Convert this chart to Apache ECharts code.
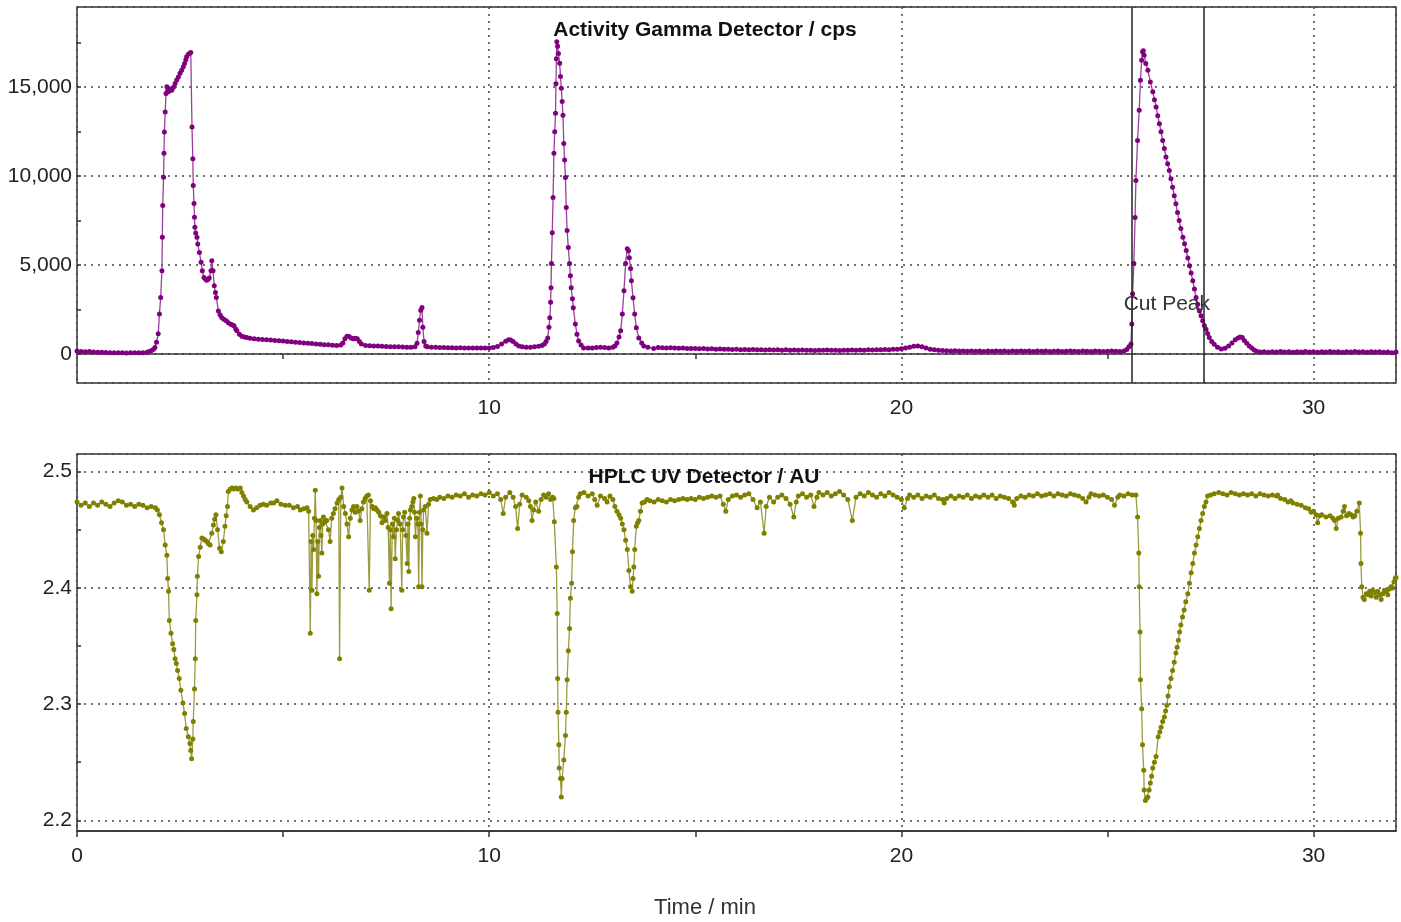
<!DOCTYPE html>
<html><head><meta charset="utf-8">
<script src="https://cdn.jsdelivr.net/npm/echarts@6/dist/echarts.min.js"></script>
<style>html,body{margin:0;padding:0;background:#fff}#c{width:1401px;height:922px}</style>
</head><body><div id="c"></div><script>
// ---- axis ranges & tick positions ----
const timeRange = [0, 32];
const gammaRange = [-1635, 19511];
const uvRange = [2.1908, 2.5152];
const gammaTickValues = [0, 2500, 5000, 7500, 10000, 12500, 15000, 17500];
const uvTickValues = [2.2, 2.25, 2.3, 2.35, 2.4, 2.45, 2.5];
const topTimeTicks = [5, 15, 25];
const bottomTimeTicks = [0, 5, 10, 15, 20, 25, 30];
// ---- annotations ----
const cutPeakStart = 25.58, cutPeakEnd = 27.34;
const cutPeakLabelAt = [26.44, 2820];
const titleGamma = 'Activity Gamma Detector / cps';
const titleUV = 'HPLC UV Detector / AU';
const xTitle = 'Time / min';

// ---- Activity gamma detector, [time min, cps] ----
const gammaCps = [
[0,170],[0.1,140],[0.2,120],[0.3,130],[0.4,110],[0.5,100],[0.6,90],[0.7,80],[0.8,70],[0.9,60],[1.0,70],[1.1,60],[1.2,50],[1.3,60],[1.4,70],[1.5,60],[1.6,70],[1.7,90],[1.75,130],[1.8,180],[1.85,250],[1.89,360],[1.93,650],[1.97,1130],[2.0,2250],[2.03,3180],[2.06,4680],[2.07,6560],[2.08,8350],[2.1,9940],[2.11,11280],[2.12,12480],[2.14,13610],[2.16,14650],[2.18,15020],[2.2,14800],[2.22,14740],[2.26,14900],[2.3,14830],[2.34,15000],[2.38,15210],[2.42,15400],[2.46,15580],[2.5,15780],[2.54,15960],[2.58,16150],[2.61,16340],[2.64,16550],[2.66,16710],[2.7,16850],[2.73,16900],[2.76,16950],
[2.79,12760],[2.81,10980],[2.82,9470],[2.84,8460],[2.85,7690],[2.86,7120],[2.88,6800],[2.91,6560],[2.93,6180],[2.97,5710],[3.01,5150],[3.04,4680],[3.08,4300],[3.12,4200],[3.15,4150],[3.18,4200],[3.21,4270],[3.25,4680],[3.27,5240],[3.3,4680],[3.33,3830],[3.36,3450],[3.38,3180],[3.43,2420],[3.47,2200],[3.51,2050],[3.56,1950],[3.62,1860],[3.67,1760],[3.73,1670],[3.77,1620],[3.81,1580],[3.85,1400],[3.88,1300],[3.94,1110],[4.0,1000],[4.06,950],[4.12,920],[4.2,880],[4.3,850],[4.4,830],[4.5,810],[4.6,800],[4.7,780],[4.8,760],[4.9,740],[5.0,730],[5.1,700],[5.2,680],[5.3,660],[5.4,640],[5.5,620],[5.6,600],[5.7,580],[5.8,560],[5.9,540],[6.0,520],[6.1,510],[6.2,490],[6.3,480],[6.4,500],[6.45,620],[6.5,850],[6.55,1000],[6.6,980],[6.65,900],[6.7,850],[6.75,880],[6.8,850],[6.85,700],[6.9,560],[7.0,480],[7.1,460],[7.2,450],[7.3,440],[7.4,430],[7.5,420],[7.6,410],[7.7,400],[7.8,400],[7.9,390],[8.0,380],[8.1,380],[8.2,400],[8.25,600],[8.28,1200],[8.31,1900],[8.34,2450],[8.37,2610],[8.39,1500],[8.42,700],[8.46,450],[8.5,400],[8.6,380],[8.7,370],[8.8,360],[8.9,360],[9.0,350],[9.1,350],[9.2,340],[9.3,350],[9.4,340],[9.5,340],[9.6,330],[9.7,340],[9.8,330],[9.9,340],[10.0,340],[10.1,360],[10.2,420],[10.3,560],[10.4,720],[10.47,800],[10.52,780],[10.58,700],[10.65,560],[10.72,450],[10.8,400],[10.9,380],[11.0,380],[11.1,400],[11.2,430],[11.28,480],[11.34,560],[11.38,700],[11.42,900],[11.45,1500],[11.47,2030],[11.49,2900],[11.5,3720],[11.51,5080],[11.53,6820],[11.55,8800],[11.57,11280],[11.59,12500],[11.61,13530],[11.62,15200],[11.63,16600],[11.64,17550],[11.66,17300],[11.68,16900],[11.71,16350],[11.73,15600],[11.75,14940],[11.77,14200],[11.79,13420],[11.81,11840],[11.83,10900],[11.85,9920],[11.87,8230],[11.89,6940],[11.92,5980],[11.95,5080],[11.97,4400],[11.99,3720],[12.02,3100],[12.04,2590],[12.09,1690],[12.13,1100],[12.17,730],[12.23,500],[12.29,340],[12.4,340],[12.5,330],[12.6,360],[12.7,380],[12.8,360],[12.9,340],[13.0,380],[13.05,450],[13.1,620],[13.15,950],[13.19,1300],[13.23,2250],[13.27,3550],[13.31,5080],[13.35,5920],[13.38,5800],[13.4,5410],[13.43,4800],[13.45,4120],[13.49,3160],[13.53,2250],[13.57,1470],[13.63,900],[13.7,620],[13.75,450],[13.85,380],[13.99,300],
[14.1,360],[14.2,350],[14.3,340],[14.4,350],[14.5,330],[14.6,320],[14.7,330],[14.8,310],[14.9,300],[15.0,310],[15.1,290],[15.2,300],[15.3,280],[15.4,290],[15.5,270],[15.6,280],[15.7,260],[15.8,270],[15.9,250],[16.0,260],[16.1,240],[16.2,250],[16.3,230],[16.4,250],[16.5,230],[16.6,240],[16.7,220],[16.8,240],[16.9,220],[17.0,230],[17.1,210],[17.2,230],[17.3,210],[17.4,220],[17.5,200],[17.6,220],[17.7,200],[17.8,210],[17.9,190],[18.0,210],[18.1,200],[18.2,220],[18.3,200],[18.4,210],[18.5,190],[18.6,210],[18.7,200],[18.8,220],[18.9,200],[19.0,220],[19.1,210],[19.2,230],[19.3,220],[19.4,240],[19.5,230],[19.6,250],[19.7,240],[19.8,260],[19.9,270],[20.0,290],[20.1,330],[20.2,380],[20.3,430],[20.4,440],[20.5,400],[20.6,330],[20.7,270],[20.8,230],[20.9,210],[21.0,190],[21.1,180],[21.2,170],[21.3,180],[21.4,160],[21.5,170],[21.6,150],[21.7,170],[21.8,150],[21.9,160],[22.0,140],[22.1,160],[22.2,150],[22.3,170],[22.4,150],[22.5,160],[22.6,140],[22.7,160],[22.8,150],[22.9,170],[23.0,150],[23.1,160],[23.2,140],[23.3,160],[23.4,150],[23.5,160],[23.6,140],[23.7,150],[23.8,160],[23.9,140],[24.0,150],[24.1,160],[24.2,150],[24.3,140],[24.4,160],[24.5,150],[24.6,140],[24.7,160],[24.8,150],[24.9,140],[25.0,150],[25.1,160],[25.2,150],[25.3,140],[25.4,160],
[25.47,250],[25.52,400],[25.57,560],[25.59,1690],[25.61,3380],[25.64,5080],[25.67,7670],[25.69,9760],[25.73,12010],[25.77,13700],[25.8,15390],[25.83,16520],[25.85,16990],[25.87,17050],[25.89,16800],[25.93,16340],[25.98,15960],[26.04,15300],[26.1,14740],[26.14,14300],[26.18,13890],[26.22,13400],[26.26,12950],[26.3,12500],[26.34,12010],[26.38,11550],[26.42,11070],[26.46,10700],[26.5,10320],[26.54,9850],[26.58,9380],[26.62,8900],[26.66,8440],[26.7,7950],[26.74,7500],[26.78,7050],[26.83,6560],[26.87,6200],[26.91,5810],[26.95,5400],[26.99,4960],[27.03,4550],[27.07,4120],[27.11,3650],[27.15,3180],[27.19,2800],[27.23,2420],[27.27,2150],[27.31,1860],[27.35,1600],[27.39,1390],[27.43,1150],[27.47,920],[27.53,700],[27.59,550],[27.67,380],[27.76,280],[27.85,320],[27.94,450],[28.02,620],[28.1,800],[28.17,900],[28.22,950],[28.27,920],[28.32,760],[28.38,600],[28.44,450],[28.5,330],[28.56,220],[28.62,150],[28.7,110],
[28.8,120],[28.9,100],[29.0,120],[29.1,110],[29.2,130],[29.3,110],[29.4,120],[29.5,100],[29.6,120],[29.7,110],[29.8,130],[29.9,110],[30.0,120],[30.1,100],[30.2,120],[30.3,110],[30.4,130],[30.5,110],[30.6,120],[30.7,100],[30.8,120],[30.9,110],[31.0,130],[31.1,110],[31.2,120],[31.3,100],[31.4,120],[31.5,110],[31.6,120],[31.7,100],[31.8,110],[31.9,60],[32.0,110]
];

// ---- HPLC UV detector, [time min, AU] ----
const uvAU = [
[0,2.474],[0.1,2.471],[0.2,2.473],[0.3,2.470],[0.4,2.473],[0.5,2.471],[0.6,2.474],[0.7,2.472],[0.8,2.470],[0.9,2.473],[1.0,2.475],[1.1,2.474],[1.2,2.471],[1.3,2.472],[1.4,2.470],[1.5,2.472],[1.6,2.471],[1.7,2.469],[1.8,2.470],[1.9,2.469],[1.95,2.467],[2.0,2.463],[2.05,2.456],[2.1,2.450],[2.14,2.437],[2.18,2.428],[2.2,2.408],[2.22,2.397],[2.24,2.372],[2.28,2.361],[2.32,2.352],[2.35,2.347],[2.38,2.339],[2.41,2.335],[2.44,2.329],[2.48,2.322],[2.52,2.312],[2.57,2.301],[2.61,2.292],[2.65,2.279],[2.7,2.272],[2.74,2.266],[2.76,2.260],[2.78,2.253],[2.81,2.270],[2.82,2.285],[2.85,2.313],[2.87,2.339],[2.88,2.372],[2.91,2.394],[2.92,2.410],[2.95,2.427],[2.99,2.435],[3.03,2.443],[3.07,2.442],[3.11,2.441],[3.15,2.440],[3.19,2.438],[3.23,2.437],[3.27,2.447],[3.31,2.454],[3.34,2.459],[3.37,2.463],[3.41,2.450],[3.46,2.434],[3.5,2.431],[3.55,2.440],[3.59,2.453],[3.62,2.462],[3.65,2.470],[3.67,2.483],[3.72,2.485],[3.76,2.486],[3.8,2.485],[3.85,2.486],[3.9,2.485],[3.96,2.486],[4.0,2.482],[4.04,2.479],[4.08,2.476],[4.12,2.474],[4.2,2.470],[4.28,2.467],[4.36,2.469],[4.44,2.471],[4.52,2.472],[4.6,2.471],[4.7,2.473],[4.77,2.473],[4.85,2.475],[4.95,2.472],[5.05,2.471],[5.15,2.471],[5.25,2.469],[5.35,2.470],[5.42,2.467],[5.5,2.468],[5.58,2.469],[5.62,2.466],
[5.66,2.361],[5.68,2.440],[5.7,2.398],[5.72,2.445],[5.74,2.433],[5.76,2.460],[5.78,2.484],[5.8,2.458],[5.82,2.395],[5.84,2.440],[5.86,2.410],[5.88,2.452],[5.9,2.458],[5.92,2.445],[5.94,2.430],[5.96,2.455],[5.98,2.461],[6.02,2.457],[6.06,2.458],[6.1,2.450],[6.14,2.440],[6.18,2.460],[6.22,2.464],[6.26,2.468],[6.31,2.473],[6.35,2.476],[6.37,2.339],[6.4,2.478],[6.43,2.486],[6.47,2.470],[6.51,2.464],[6.55,2.455],[6.59,2.444],[6.63,2.460],[6.67,2.467],[6.71,2.470],[6.75,2.465],[6.79,2.470],[6.83,2.466],[6.87,2.458],[6.91,2.468],[6.95,2.474],[6.99,2.477],[7.03,2.479],[7.07,2.480],[7.09,2.398],[7.12,2.475],[7.16,2.470],[7.2,2.468],[7.24,2.469],[7.28,2.467],[7.32,2.465],[7.36,2.462],[7.4,2.456],[7.44,2.461],[7.48,2.458],[7.52,2.464],[7.55,2.452],[7.58,2.404],[7.6,2.450],[7.62,2.382],[7.65,2.455],[7.68,2.444],[7.7,2.460],[7.72,2.425],[7.75,2.450],[7.78,2.458],[7.8,2.464],[7.84,2.455],[7.88,2.398],[7.9,2.450],[7.92,2.461],[7.95,2.465],[7.98,2.445],[8.01,2.421],[8.03,2.455],[8.05,2.414],[8.07,2.460],[8.09,2.467],[8.12,2.470],[8.15,2.474],[8.17,2.477],[8.19,2.465],[8.21,2.444],[8.24,2.460],[8.27,2.455],[8.29,2.401],[8.31,2.465],[8.33,2.479],[8.35,2.455],[8.37,2.401],[8.39,2.450],[8.41,2.467],[8.45,2.470],[8.49,2.447],[8.53,2.472],[8.57,2.476],[8.65,2.477],[8.73,2.476],
[8.8,2.478],[8.9,2.477],[9.0,2.479],[9.1,2.478],[9.2,2.480],[9.3,2.479],[9.4,2.481],[9.5,2.478],[9.6,2.480],[9.7,2.479],[9.8,2.481],[9.9,2.480],[10.0,2.482],[10.1,2.479],[10.2,2.481],[10.28,2.476],[10.34,2.464],[10.4,2.478],[10.5,2.482],[10.58,2.478],[10.64,2.470],[10.69,2.451],[10.74,2.472],[10.8,2.480],[10.9,2.478],[10.96,2.475],[11.0,2.470],[11.04,2.458],[11.08,2.467],[11.13,2.474],[11.2,2.466],[11.26,2.476],[11.32,2.480],[11.38,2.478],[11.44,2.481],[11.49,2.476],[11.54,2.478],[11.57,2.477],
[11.58,2.457],[11.63,2.418],[11.65,2.378],[11.66,2.322],[11.67,2.293],[11.69,2.265],[11.7,2.245],[11.73,2.236],[11.75,2.220],[11.77,2.236],[11.81,2.252],[11.85,2.273],[11.87,2.293],[11.89,2.321],[11.92,2.346],[11.95,2.365],[11.97,2.391],[12.0,2.404],[12.02,2.431],[12.05,2.458],[12.09,2.469],[12.13,2.470],[12.17,2.478],[12.21,2.481],[12.3,2.482],[12.4,2.479],[12.5,2.481],[12.56,2.476],[12.62,2.471],[12.7,2.479],[12.8,2.477],[12.86,2.474],[12.93,2.479],[13.0,2.476],[13.05,2.470],[13.1,2.466],[13.15,2.463],[13.19,2.460],[13.23,2.455],[13.27,2.450],[13.31,2.441],[13.35,2.433],[13.39,2.415],[13.43,2.401],[13.47,2.397],[13.49,2.408],[13.51,2.418],[13.53,2.433],[13.57,2.453],[13.6,2.456],[13.63,2.458],[13.67,2.466],[13.71,2.473],[13.77,2.474],[13.83,2.476],
[13.9,2.475],[14.0,2.474],[14.1,2.476],[14.2,2.475],[14.3,2.474],[14.4,2.476],[14.5,2.475],[14.6,2.476],[14.7,2.477],[14.8,2.476],[14.9,2.477],[15.0,2.476],[15.1,2.478],[15.2,2.477],[15.3,2.478],[15.4,2.479],[15.5,2.478],[15.6,2.479],[15.68,2.472],[15.74,2.466],[15.8,2.476],[15.9,2.479],[16.0,2.480],[16.1,2.478],[16.2,2.480],[16.3,2.481],[16.4,2.476],[16.5,2.469],[16.58,2.474],[16.67,2.447],[16.72,2.470],[16.8,2.478],[16.9,2.474],[17.0,2.478],[17.1,2.480],[17.2,2.477],[17.3,2.472],[17.39,2.461],[17.45,2.474],[17.5,2.479],[17.6,2.481],[17.7,2.478],[17.8,2.480],[17.88,2.470],[17.95,2.478],[18.0,2.482],[18.1,2.480],[18.2,2.482],[18.3,2.479],[18.4,2.481],[18.5,2.483],[18.6,2.480],[18.7,2.476],[18.81,2.458],[18.9,2.478],[19.0,2.481],[19.1,2.479],[19.2,2.482],[19.3,2.480],[19.4,2.478],[19.5,2.481],[19.6,2.479],[19.7,2.482],[19.8,2.480],[19.9,2.478],[20.0,2.476],[20.07,2.469],[20.15,2.477],[20.2,2.480],[20.3,2.478],[20.4,2.480],[20.5,2.477],[20.6,2.479],[20.7,2.478],[20.8,2.480],[20.9,2.477],[21.0,2.476],[21.04,2.473],[21.1,2.477],[21.2,2.479],[21.3,2.477],[21.4,2.479],[21.5,2.478],[21.6,2.480],[21.7,2.477],[21.8,2.479],[21.9,2.478],[22.0,2.480],[22.1,2.478],[22.2,2.480],[22.3,2.477],[22.4,2.479],[22.5,2.478],[22.6,2.477],[22.7,2.474],[22.74,2.471],[22.8,2.477],[22.9,2.479],[23.0,2.478],[23.1,2.480],[23.2,2.479],[23.3,2.481],[23.4,2.479],[23.5,2.480],[23.6,2.481],[23.7,2.479],[23.8,2.481],[23.9,2.480],[24.0,2.479],[24.1,2.481],[24.2,2.480],[24.3,2.479],[24.4,2.477],[24.48,2.474],[24.55,2.478],[24.6,2.481],[24.7,2.480],[24.8,2.479],[24.9,2.480],[25.0,2.478],[25.1,2.476],[25.17,2.471],[25.25,2.478],[25.3,2.480],[25.4,2.479],[25.5,2.481],[25.6,2.480],[25.69,2.480],
[25.73,2.461],[25.76,2.430],[25.77,2.401],[25.79,2.362],[25.8,2.321],[25.83,2.296],[25.85,2.265],[25.88,2.243],[25.89,2.226],[25.92,2.217],[25.95,2.219],[25.98,2.220],[26.01,2.226],[26.04,2.232],[26.07,2.238],[26.1,2.245],[26.14,2.250],[26.18,2.255],[26.23,2.272],[26.27,2.276],[26.3,2.280],[26.34,2.285],[26.38,2.289],[26.41,2.294],[26.44,2.299],[26.47,2.307],[26.5,2.315],[26.54,2.322],[26.58,2.329],[26.62,2.336],[26.66,2.344],[26.69,2.349],[26.72,2.355],[26.75,2.362],[26.78,2.368],[26.82,2.375],[26.86,2.381],[26.9,2.388],[26.95,2.395],[26.99,2.404],[27.03,2.413],[27.07,2.421],[27.11,2.430],[27.15,2.437],[27.19,2.444],[27.23,2.451],[27.27,2.458],[27.31,2.464],[27.35,2.470],[27.39,2.474],[27.43,2.479],[27.5,2.480],[27.59,2.481],
[27.7,2.482],[27.8,2.481],[27.9,2.480],[28.0,2.482],[28.1,2.481],[28.2,2.480],[28.3,2.481],[28.4,2.480],[28.5,2.481],[28.6,2.479],[28.7,2.481],[28.8,2.480],[28.9,2.479],[29.0,2.480],[29.1,2.479],[29.13,2.480],[29.2,2.477],[29.3,2.476],[29.38,2.474],[29.45,2.475],[29.5,2.473],[29.6,2.472],[29.7,2.471],[29.8,2.469],[29.88,2.468],[29.94,2.465],[30.0,2.466],[30.06,2.463],[30.1,2.456],[30.15,2.462],[30.2,2.463],[30.3,2.461],[30.4,2.462],[30.47,2.460],[30.51,2.458],[30.55,2.451],[30.6,2.460],[30.67,2.461],[30.72,2.466],[30.75,2.470],[30.8,2.462],[30.86,2.464],[30.91,2.463],[30.96,2.461],[31.0,2.462],[31.05,2.466],[31.11,2.473],[31.14,2.447],[31.15,2.421],[31.17,2.401],[31.2,2.392],[31.23,2.390],[31.28,2.395],[31.32,2.394],[31.36,2.397],[31.4,2.393],[31.44,2.398],[31.48,2.396],[31.52,2.392],[31.56,2.397],[31.6,2.394],[31.64,2.390],[31.68,2.395],[31.72,2.398],[31.76,2.397],[31.8,2.394],[31.84,2.399],[31.88,2.401],[31.92,2.400],[31.95,2.405],[31.98,2.408],[32.0,2.409]
];

const F = "'Liberation Sans', Arial, Helvetica, sans-serif";
const dotted = {show: true, lineStyle: {color: '#444', type: [2, 5], width: 1.5}};
const gridBox = {show: true, borderColor: '#333', borderWidth: 1.5, backgroundColor: 'transparent'};
const labelStyle = {fontSize: 21, color: '#222', fontFamily: F};

const chart = echarts.init(document.getElementById('c'), null, {renderer: 'canvas'});
chart.setOption({
  animation: false,
  backgroundColor: '#fff',
  grid: [
    Object.assign({left: 77, top: 7, width: 1319, height: 376}, gridBox),
    Object.assign({left: 77, top: 454, width: 1319, height: 377}, gridBox)
  ],
  xAxis: [
    {gridIndex: 0, type: 'value', position: 'bottom', min: timeRange[0], max: timeRange[1], splitNumber: 3,
     axisLine: {show: true, onZero: true, onZeroAxisIndex: 0, lineStyle: {color: '#333', width: 1.5}},
     axisTick: {show: false},
     axisLabel: Object.assign({margin: 15, showMinLabel: false, showMaxLabel: false}, labelStyle),
     splitLine: dotted},
    {gridIndex: 0, type: 'value', position: 'bottom', min: timeRange[0], max: timeRange[1],
     axisLine: {show: false, onZero: true, onZeroAxisIndex: 0},
     axisTick: {show: true, inside: false, length: 5, customValues: topTimeTicks, lineStyle: {color: '#333', width: 1.5}},
     axisLabel: {show: false}, splitLine: {show: false}},
    {gridIndex: 1, type: 'value', position: 'bottom', min: timeRange[0], max: timeRange[1], splitNumber: 3,
     axisLine: {show: true, onZero: false, lineStyle: {color: '#333', width: 1.5}},
     axisTick: {show: false},
     axisLabel: Object.assign({margin: 15, showMinLabel: true, showMaxLabel: false}, labelStyle),
     splitLine: dotted},
    {gridIndex: 1, type: 'value', position: 'bottom', min: timeRange[0], max: timeRange[1],
     axisLine: {show: false, onZero: false},
     axisTick: {show: true, inside: false, length: 6, customValues: bottomTimeTicks, lineStyle: {color: '#333', width: 1.5}},
     axisLabel: {show: false}, splitLine: {show: false}}
  ],
  yAxis: [
    {gridIndex: 0, type: 'value', position: 'left', min: gammaRange[0], max: gammaRange[1], splitNumber: 4,
     axisLine: {show: false, onZero: false}, axisTick: {show: false},
     axisLabel: Object.assign({margin: 5, showMinLabel: false, showMaxLabel: false}, labelStyle),
     splitLine: dotted},
    {gridIndex: 0, type: 'value', position: 'left', min: gammaRange[0], max: gammaRange[1],
     axisLine: {show: false, onZero: false},
     axisTick: {show: true, inside: true, length: 4, customValues: gammaTickValues, lineStyle: {color: '#333', width: 1.5}},
     axisLabel: {show: false}, splitLine: {show: false}},
    {gridIndex: 1, type: 'value', position: 'left', min: uvRange[0], max: uvRange[1], splitNumber: 3,
     axisLine: {show: false, onZero: false}, axisTick: {show: false},
     axisLabel: Object.assign({margin: 5, showMinLabel: false, showMaxLabel: false}, labelStyle),
     splitLine: dotted},
    {gridIndex: 1, type: 'value', position: 'left', min: uvRange[0], max: uvRange[1],
     axisLine: {show: false, onZero: false},
     axisTick: {show: true, inside: true, length: 4, customValues: uvTickValues, lineStyle: {color: '#333', width: 1.5}},
     axisLabel: {show: false}, splitLine: {show: false}}
  ],
  series: [
    {type: 'line', name: 'Activity', xAxisIndex: 0, yAxisIndex: 0, data: gammaCps,
     symbol: 'circle', symbolSize: 5, showSymbol: true, clip: true, silent: true, z: 3,
     itemStyle: {color: '#800080'}, lineStyle: {color: '#9a409a', width: 1.3},
     markLine: {silent: true, symbol: ['none', 'none'], label: {show: false},
       lineStyle: {color: '#222', type: 'solid', width: 1.5},
       data: [{xAxis: cutPeakStart}, {xAxis: cutPeakEnd}]},
     markPoint: {silent: true, symbol: 'circle', symbolSize: 0,
       itemStyle: {color: 'rgba(0,0,0,0)'},
       label: {show: true, position: 'inside', formatter: 'Cut Peak', fontSize: 21, color: '#333', fontFamily: F},
       data: [{coord: cutPeakLabelAt}]}},
    {type: 'line', name: 'UV', xAxisIndex: 2, yAxisIndex: 2, data: uvAU,
     symbol: 'circle', symbolSize: 5, showSymbol: true, clip: true, silent: true, z: 3,
     itemStyle: {color: '#808000'}, lineStyle: {color: '#9a9a40', width: 1.3}}
  ],
  graphic: [
    {type: 'text', x: 705, y: 30, z: 10, style: {text: titleGamma, font: 'bold 21px ' + F, fill: '#111', align: 'center', verticalAlign: 'middle'}},
    {type: 'text', x: 704, y: 477, z: 10, style: {text: titleUV, font: 'bold 21px ' + F, fill: '#111', align: 'center', verticalAlign: 'middle'}},
    {type: 'text', x: 705, y: 908, z: 10, style: {text: xTitle, font: '22px ' + F, fill: '#333', align: 'center', verticalAlign: 'middle'}}
  ]
});
</script></body></html>
